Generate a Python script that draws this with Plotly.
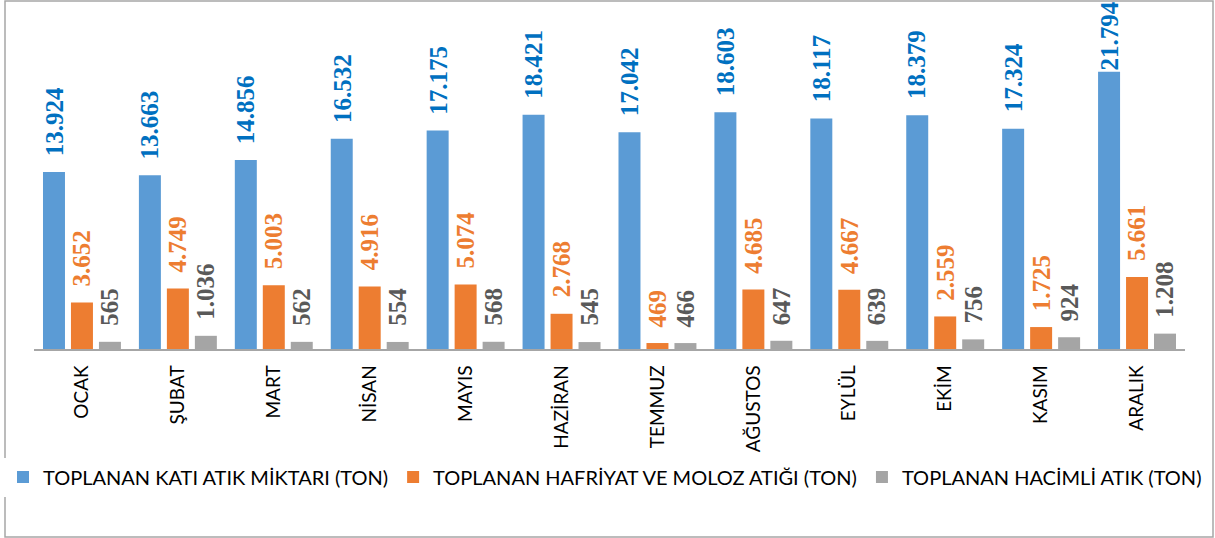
import plotly.graph_objects as go

months = ["OCAK", "ŞUBAT", "MART", "NİSAN", "MAYIS", "HAZİRAN", "TEMMUZ",
          "AĞUSTOS", "EYLÜL", "EKİM", "KASIM", "ARALIK"]
kati = [13924, 13663, 14856, 16532, 17175, 18421, 17042, 18603, 18117, 18379, 17324, 21794]
hafriyat = [3652, 4749, 5003, 4916, 5074, 2768, 469, 4685, 4667, 2559, 1725, 5661]
hacimli = [565, 1036, 562, 554, 568, 545, 466, 647, 639, 756, 924, 1208]

names = ["TOPLANAN KATI ATIK MİKTARI (TON)",
         "TOPLANAN HAFRİYAT VE MOLOZ ATIĞI (TON)",
         "TOPLANAN HACİMLİ ATIK (TON)"]
bar_colors = ["#5B9BD5", "#ED7D31", "#A5A5A5"]
label_colors = ["#0070C0", "#ED7D31", "#595959"]
series = [kati, hafriyat, hacimli]

W, H = 1215, 538
PL, PR, PT, PB = 34, 1185, 31, 349   # plot area in pixels
YMAX = 25000

fig = go.Figure()
for name, vals, col in zip(names, series, bar_colors):
    fig.add_trace(go.Bar(x=months, y=vals, name=name, marker_color=col,
                         marker_line_width=0, hoverinfo="x+y"))

def fmt(v):
    return f"{v:,}".replace(",", ".")

def fx(px):
    return px / W

def fy(py):
    return (H - py) / H

LABEL_GAP = 14
shifts = [-28, 0, 28]
annotations = []
for vals, lc, sh in zip(series, label_colors, shifts):
    for m, v in zip(months, vals):
        top_px = PB - v / YMAX * (PB - PT)
        font = dict(family="Liberation Serif, Times New Roman, serif",
                    size=25, color=lc, weight="bold")
        if top_px - LABEL_GAP - len(fmt(v)) * 12.5 < 0:
            # not enough room above the bar: clamp label to the top edge
            annotations.append(dict(
                x=m, y=fy(0), xref="x", yref="paper", text=fmt(v),
                showarrow=False, textangle=-90, xanchor="center",
                yanchor="top", xshift=sh, font=font))
        else:
            annotations.append(dict(
                x=m, y=v, xref="x", yref="y", text=fmt(v), showarrow=False,
                textangle=-90, xanchor="center", yanchor="bottom",
                xshift=sh, yshift=LABEL_GAP, font=font))

fig.update_layout(
    width=W, height=H,
    margin=dict(l=0, r=0, t=0, b=0),
    paper_bgcolor="white", plot_bgcolor="white",
    barmode="group", bargap=0.125, bargroupgap=0.214,
    showlegend=True,
    legend=dict(orientation="h", xref="paper", x=fx(3), xanchor="left",
                yref="paper", y=fy(477), yanchor="middle", itemwidth=30,
                font=dict(family="Lato", size=20, color="#000000"),
                itemclick=False, itemdoubleclick=False),
    annotations=annotations,
    shapes=[dict(type="rect", xref="paper", yref="paper",
                 x0=fx(5), x1=fx(1213), y0=fy(537), y1=fy(1),
                 line=dict(color="#A6A6A6", width=1.5), layer="below")],
    xaxis=dict(domain=[fx(PL), fx(PR)], showline=True, linecolor="#A6A6A6",
               linewidth=1.5, tickangle=-90, ticks="", ticklabelstandoff=7,
               automargin=False,
               tickfont=dict(family="Lato", size=19, color="#000000"),
               showgrid=False),
    yaxis=dict(domain=[fy(PB), fy(PT)], range=[0, YMAX], visible=False,
               showgrid=False, automargin=False),
)

fig.write_html("out.html", config={"displayModeBar": False},
               post_script="document.body.style.margin='0';document.body.style.overflow='hidden';")
